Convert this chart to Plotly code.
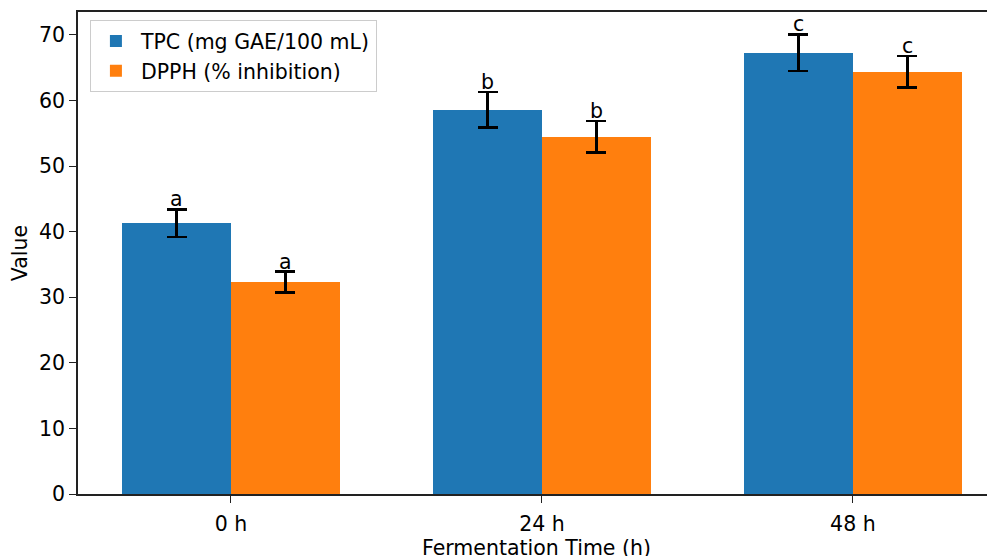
import plotly.graph_objects as go

categories = ["0 h", "24 h", "48 h"]
tpc = [41.3, 58.6, 67.3]
tpc_err = [2.1, 2.7, 2.8]
dpph = [32.3, 54.5, 64.4]
dpph_err = [1.6, 2.4, 2.4]
tpc_letters = ["a", "b", "c"]
dpph_letters = ["a", "b", "c"]

xs = list(range(len(categories)))
w = 0.35
font = "DejaVu Sans, Arial, sans-serif"
fs = 20.5

fig = go.Figure()
fig.add_trace(go.Bar(
    x=[x - w / 2 for x in xs], y=tpc, width=w, name="TPC (mg GAE/100 mL)",
    marker=dict(color="#1f77b4", line=dict(width=0)),
    error_y=dict(type="data", array=tpc_err, color="black", thickness=2.5, width=10),
))
fig.add_trace(go.Bar(
    x=[x + w / 2 for x in xs], y=dpph, width=w, name="DPPH (% inhibition)",
    marker=dict(color="#ff7f0e", line=dict(width=0)),
    error_y=dict(type="data", array=dpph_err, color="black", thickness=2.5, width=10),
))

for i, x in enumerate(xs):
    fig.add_annotation(x=x - w / 2, y=tpc[i] + tpc_err[i], text=tpc_letters[i],
                       showarrow=False, yanchor="bottom", yshift=-4,
                       font=dict(size=fs, color="black", family=font))
    fig.add_annotation(x=x + w / 2, y=dpph[i] + dpph_err[i], text=dpph_letters[i],
                       showarrow=False, yanchor="bottom", yshift=-4,
                       font=dict(size=fs, color="black", family=font))

fig.update_layout(
    width=995, height=556,
    margin=dict(l=70, r=8, t=2, b=70),
    plot_bgcolor="white", paper_bgcolor="white",
    barmode="overlay", bargap=0,
    font=dict(family=font, size=fs, color="black"),
    showlegend=True,
    legend=dict(x=0.013, y=0.983, xanchor="left", yanchor="top",
                bordercolor="#cccccc", borderwidth=1, bgcolor="rgba(255,255,255,0.8)",
                font=dict(size=fs, family=font), itemwidth=40, tracegroupgap=2),
    xaxis=dict(
        range=[-0.492, 2.457], tickmode="array", tickvals=xs, ticktext=categories,
        showline=True, linecolor="#222", linewidth=1.5, mirror=True,
        ticks="outside", ticklen=7, tickcolor="#222", showgrid=False, zeroline=False,
        ticklabelstandoff=4,
        title=dict(text="Fermentation Time (h)", standoff=4, font=dict(size=fs)),
        tickfont=dict(size=fs),
    ),
    yaxis=dict(
        range=[0, 73.5], tickvals=[0, 10, 20, 30, 40, 50, 60, 70],
        showline=True, linecolor="#222", linewidth=1.5,
        ticks="outside", ticklen=7, tickcolor="#222", showgrid=False, zeroline=False,
        title=dict(text="Value", standoff=8, font=dict(size=fs)),
        tickfont=dict(size=fs),
    ),
)

fig.write_html("out.html")
